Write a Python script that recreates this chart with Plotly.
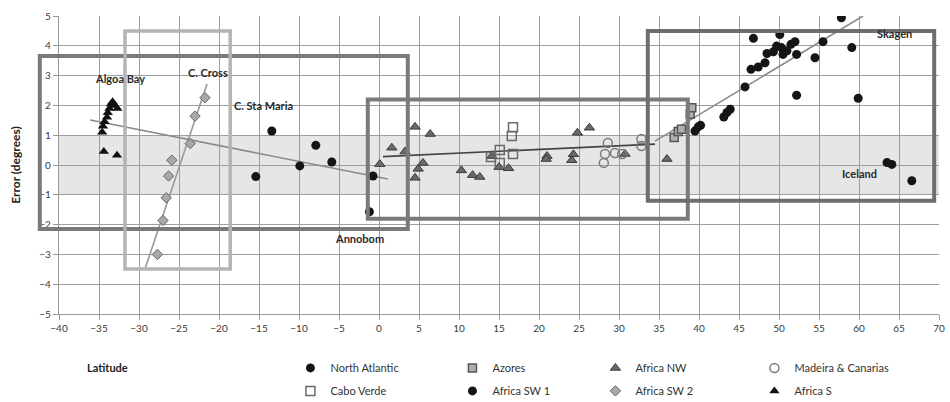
import plotly.graph_objects as go

# ---- heading error (degrees) against latitude, by region ----
na_lat = [57.8, 46.8, 50.1, 52.0, 55.5, 59.1, 54.5, 52.2, 51.0, 50.3, 49.7, 49.3,
          48.5, 50.5, 51.5, 48.25, 47.4, 46.5, 45.75, 52.2, 59.9, 43.9, 43.5, 43.1,
          40.2, 39.9, 39.5, 63.5, 64.1, 66.6]
na_err = [4.94, 4.25, 4.38, 4.14, 4.14, 3.94, 3.6, 3.71, 3.83, 3.94, 3.99, 3.8,
          3.74, 3.71, 4.05, 3.43, 3.29, 3.21, 2.62, 2.34, 2.24, 1.87, 1.76, 1.61,
          1.33, 1.28, 1.14, 0.08, 0.02, -0.53]

azores_lat = [36.9, 37.4, 37.8, 38.9, 39.1]
azores_err = [0.92, 1.12, 1.2, 1.7, 1.92]

nw_lat = [0.1, 1.6, 3.25, 4.5, 6.4, 5.5, 4.9, 4.5, 10.3, 11.7, 12.6, 14.1, 15.0,
          16.2, 21.0, 20.9, 24.3, 24.1, 24.8, 26.3, 30.75, 36.0]
nw_err = [0.03, 0.58, 0.45, 1.28, 1.04, 0.07, -0.13, -0.43, -0.18, -0.34, -0.4,
          0.3, -0.07, -0.11, 0.3, 0.2, 0.36, 0.16, 1.08, 1.25, 0.37, 0.2]

mc_lat = [28.6, 28.25, 28.1, 29.5, 30.4, 32.8, 32.8]
mc_err = [0.74, 0.37, 0.07, 0.4, 0.37, 0.87, 0.64]

cv_lat = [16.75, 16.6, 15.1, 16.75, 15.1, 14.0]
cv_err = [1.27, 0.97, 0.5, 0.37, 0.07, 0.27]

sw1_lat = [-13.4, -15.4, -9.9, -7.9, -5.9, -0.75, -1.2]
sw1_err = [1.14, -0.39, -0.03, 0.66, 0.1, -0.37, -1.57]

sw2_lat = [-21.75, -23.0, -23.6, -25.9, -26.3, -26.6, -27.0, -27.7]
sw2_err = [2.26, 1.64, 0.72, 0.16, -0.37, -1.1, -1.86, -3.0]

s_lat = [-34.6, -34.5, -34.3, -34.0, -33.9, -33.7, -33.5, -33.3, -33.0, -32.7,
         -34.4, -32.75]
s_err = [1.1, 1.3, 1.45, 1.6, 1.75, 1.9, 2.05, 2.12, 2.0, 1.9, 0.45, 0.33]

# ---- fitted trend lines (end points, latitude / error) ----
trend_south_lat = [-36.1, 1.1]
trend_south_err = [1.51, -0.47]
trend_cross_lat = [-29.25, -21.5]
trend_cross_err = [-3.49, 2.72]
trend_mid_lat = [0.5, 34.5]
trend_mid_err = [0.28, 0.7]
trend_north_lat = [34.5, 60.5]
trend_north_err = [0.8, 5.0]

# ---- regional boxes (lat min, lat max, err min, err max) ----
box_south = (-42.4, 3.6, -2.15, 3.66)
box_cross = (-31.75, -18.6, -3.49, 4.5)
box_mid = (-1.4, 38.6, -1.8, 2.2)
box_north = (33.6, 69.4, -1.2, 4.5)

# ---- place labels ----
place_names = ["Algoa Bay", "C. Cross", "C. Sta Maria", "Annobom", "Iceland", "Skagen"]
place_lat = [-32.4, -21.4, -14.5, -2.4, 60.0, 64.4]
place_err = [2.9, 3.1, 2.0, -2.45, -0.3, 4.4]

X_RANGE = [-40, 70]
Y_RANGE = [-5, 5]
FONT = "Lato, Open Sans, sans-serif"
PLOT_L, PLOT_R, PLOT_T, PLOT_B = 59, 11, 16, 88

fig = go.Figure()

# light band of +/- 1 degree
fig.add_shape(type="rect", xref="x", yref="y", x0=X_RANGE[0], x1=X_RANGE[1],
              y0=-1, y1=1, fillcolor="#e6e6e6", line_width=0, layer="below")


def to_paper_x(v):
    return (v - X_RANGE[0]) / (X_RANGE[1] - X_RANGE[0])


def to_paper_y(v):
    return (v - Y_RANGE[0]) / (Y_RANGE[1] - Y_RANGE[0])


def add_box(b, color, width):
    fig.add_shape(type="rect", xref="paper", yref="paper",
                  x0=to_paper_x(b[0]), x1=to_paper_x(b[1]),
                  y0=to_paper_y(b[2]), y1=to_paper_y(b[3]),
                  line=dict(color=color, width=width), fillcolor="rgba(0,0,0,0)",
                  layer="above")


add_box(box_south, "#7a7a7a", 4)
add_box(box_cross, "#b4b4b4", 3.5)
add_box(box_mid, "#7a7a7a", 4)
add_box(box_north, "#6e6e6e", 4)

# trend lines
for lat, err, col in [(trend_south_lat, trend_south_err, "#8a8a8a"),
                      (trend_cross_lat, trend_cross_err, "#9a9a9a"),
                      (trend_mid_lat, trend_mid_err, "#444444"),
                      (trend_north_lat, trend_north_err, "#8a8a8a")]:
    fig.add_trace(go.Scatter(x=lat, y=err, mode="lines", showlegend=False,
                             line=dict(color=col, width=1.6), hoverinfo="skip"))

# (name, lat, err, marker, legend row, legend entry width)
series = [
    ("North Atlantic", na_lat, na_err,
     dict(symbol="circle", size=9, color="#151515"), "legend", 117),
    ("Azores", azores_lat, azores_err,
     dict(symbol="square", size=8, color="#b0b0b0", line=dict(color="#555", width=1.5)),
     "legend", 98),
    ("Africa NW", nw_lat, nw_err,
     dict(symbol="triangle-up", size=9, color="#6a6a6a", line=dict(color="#3a3a3a", width=1)),
     "legend", 114),
    ("Madeira & Canarias", mc_lat, mc_err,
     dict(symbol="circle-open", size=9, color="#7a7a7a", line=dict(width=1.5)),
     "legend", 130),
    ("Cabo Verde", cv_lat, cv_err,
     dict(symbol="square-open", size=9, color="#6a6a6a", line=dict(width=1.5)),
     "legend2", 117),
    ("Africa SW 1", sw1_lat, sw1_err,
     dict(symbol="circle", size=9, color="#151515"), "legend2", 98),
    ("Africa SW 2", sw2_lat, sw2_err,
     dict(symbol="diamond", size=8, color="#a8a8a8", line=dict(color="#666", width=1)),
     "legend2", 114),
    ("Africa S", s_lat, s_err,
     dict(symbol="triangle-up", size=9, color="#111111"), "legend2", 130),
]
for name, lat, err, mk, leg, lw in series:
    fig.add_trace(go.Scatter(x=lat, y=err, mode="markers", name=name, marker=mk,
                             legend=leg, legendwidth=lw))

for name, lat, err in zip(place_names, place_lat, place_err):
    fig.add_annotation(x=lat, y=err, text=f"<b>{name}</b>", showarrow=False,
                       font=dict(family=FONT, size=11, color="#2a2a2a"))

fig.add_annotation(xref="paper", yref="paper", x=to_paper_x(-36.7), y=-0.181,
                   text="<b>Latitude</b>", showarrow=False, xanchor="left",
                   yanchor="middle", font=dict(family=FONT, size=11, color="#222"))

axis_common = dict(showgrid=True, gridcolor="#9e9e9e", gridwidth=1.2,
                   zeroline=False, showline=True, linecolor="#999", linewidth=1.2,
                   ticks="outside", ticklen=5, tickcolor="#999",
                   tickfont=dict(family=FONT, size=10, color="#3a3a3a"), mirror=False)

fig.update_xaxes(range=X_RANGE, dtick=5, tick0=-40, **axis_common)
fig.update_yaxes(range=Y_RANGE, dtick=1, tick0=-5,
                 title=dict(text="<b>Error (degrees)</b>", standoff=16,
                            font=dict(family=FONT, size=12, color="#222")),
                 **axis_common)

legend_common = dict(orientation="h", x=0.263, xanchor="left", yanchor="middle",
                     itemwidth=30, font=dict(family=FONT, size=11, color="#333"),
                     bgcolor="rgba(0,0,0,0)", borderwidth=0)

fig.update_layout(
    width=950, height=402,
    margin=dict(l=PLOT_L, r=PLOT_R, t=PLOT_T, b=PLOT_B, autoexpand=False),
    plot_bgcolor="white", paper_bgcolor="white",
    font=dict(family=FONT, size=11, color="#333"),
    legend=dict(y=-0.181, **legend_common),
    legend2=dict(y=-0.258, **legend_common),
)

fig.write_html("out.html")
